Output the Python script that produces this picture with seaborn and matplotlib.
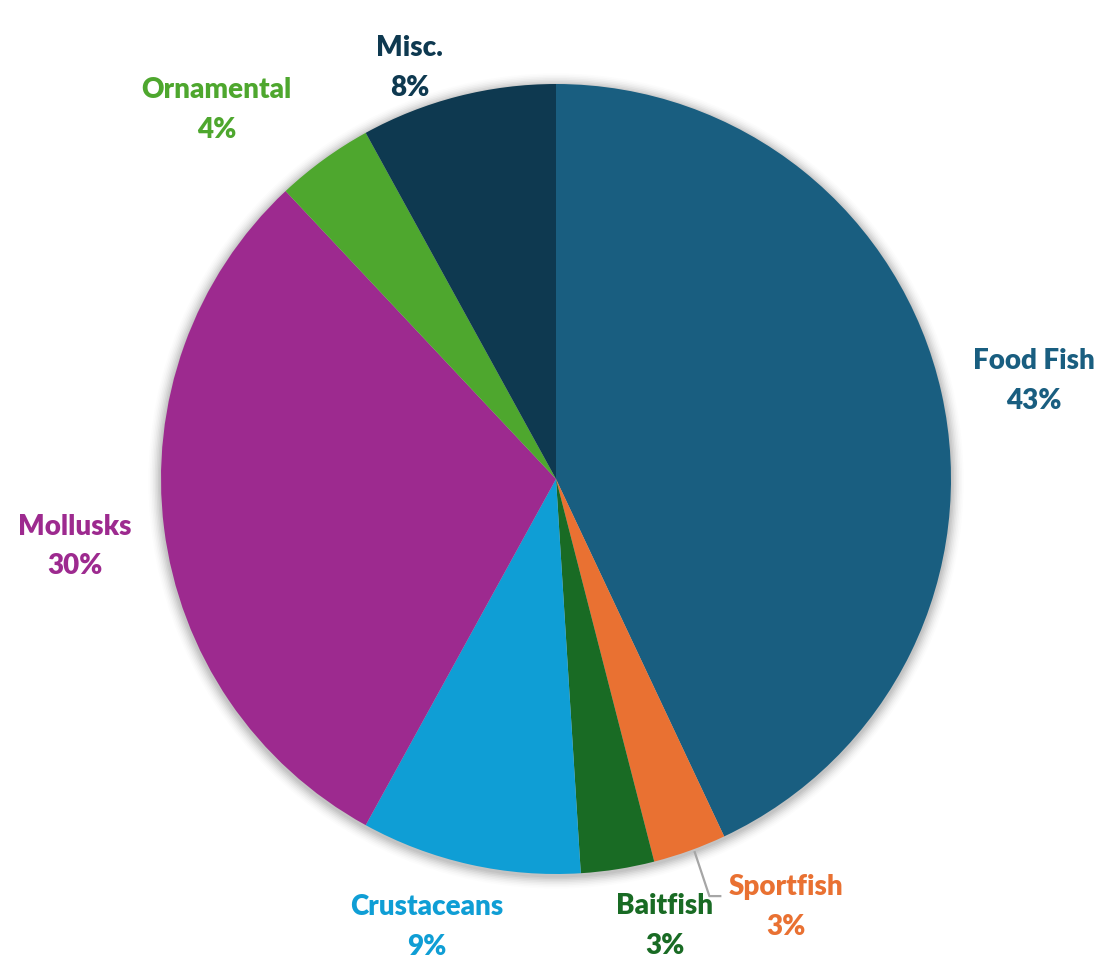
import numpy as np
import matplotlib
matplotlib.use("Agg")
import matplotlib.pyplot as plt
import seaborn as sns

# Aquaculture sales share by category (clockwise from 12 o'clock)
categories = ["Food Fish", "Sportfish", "Baitfish", "Crustaceans", "Mollusks", "Ornamental", "Misc."]
shares = [43, 3, 3, 9, 30, 4, 8]
colors = ["#195e80", "#e97132", "#196b24", "#0f9ed5", "#9d2a8f", "#4ea72e", "#0e3950"]

# label placement: radial distance (in radii) and angular nudge (degrees, clockwise)
label_dist = [1.235, 1.23, 1.165, 1.18, 1.23, 1.27, 1.105]
label_nudge = [1.0, -8.5, -4.7, 3.5, -0.8, -6.6, -5.2]

sns.set_theme(style="white")
plt.rcParams["font.family"] = ["Lato", "DejaVu Sans"]

W, H = 1100, 959
fig = plt.figure(figsize=(W / 100, H / 100), dpi=100)
ax = fig.add_axes([0, 0, 1, 1])

cx, cy, R = 556, H - 479, 395

# soft halo around the pie
for i, a in enumerate(np.linspace(0.05, 0.012, 8)):
    ax.add_patch(plt.Circle((cx, cy - 2), R + 1.5 + i * 1.6, color="#000000", alpha=a, lw=0, zorder=0))

wedges, _ = ax.pie(
    shares, colors=colors, startangle=90, counterclock=False,
    center=(cx, cy), radius=R, frame=True,
    wedgeprops=dict(linewidth=0, edgecolor="none"),
)
ax.set_xlim(0, W)
ax.set_ylim(0, H)
ax.set_aspect("equal")
ax.axis("off")

cum = np.cumsum([0] + shares)
total = sum(shares)
for i, (name, val) in enumerate(zip(categories, shares)):
    mid_deg = (cum[i] + cum[i + 1]) / 2 / total * 360
    th = np.deg2rad(mid_deg + label_nudge[i])
    lx = cx + label_dist[i] * R * np.sin(th)
    ly = cy + label_dist[i] * R * np.cos(th)
    ax.text(lx, ly, f"{name}\n{val}%", ha="center", va="center",
            color=colors[i], fontsize=20, fontweight="heavy", linespacing=1.65, zorder=5)
    if name == "Sportfish":
        # leader line from the slice edge to the label
        a0 = np.deg2rad(mid_deg - 0.6)
        ex, ey = cx + (R + 2) * np.sin(a0), cy + (R + 2) * np.cos(a0)
        ax.plot([ex, ex + 15, ex + 27], [ey, ey - 45, ey - 45],
                color="#a6a6a6", lw=1.6, zorder=4, solid_capstyle="butt")

fig.savefig("out.png", dpi=100, facecolor="white")
